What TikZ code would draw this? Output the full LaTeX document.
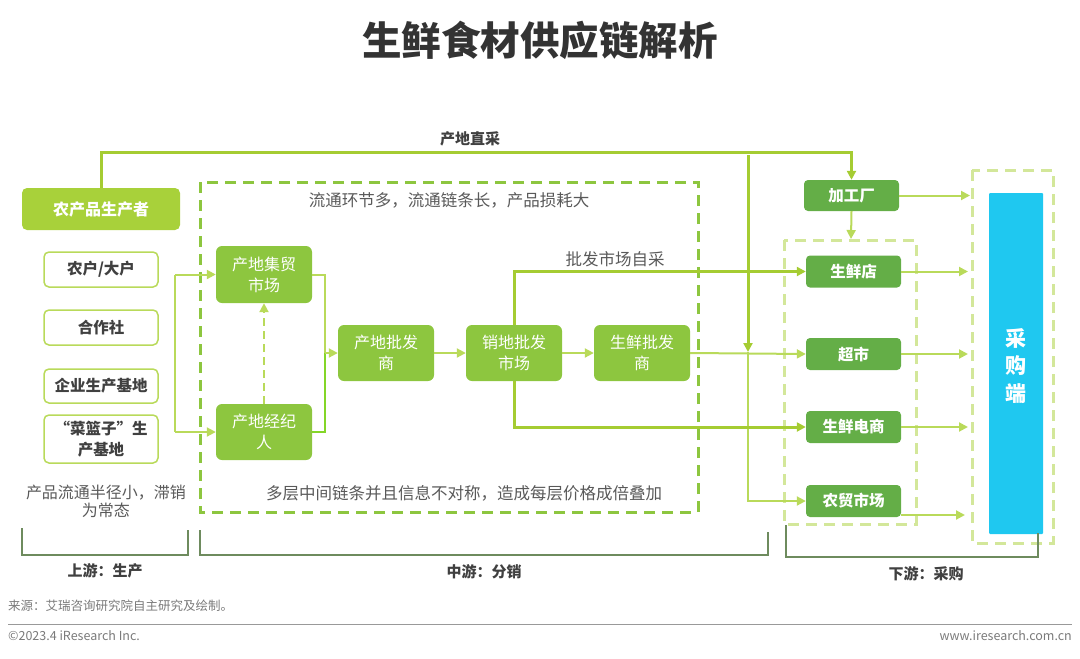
\documentclass[tikz,border=0pt]{standalone}
\usepackage{fontspec}
\setmainfont{Noto Sans CJK SC}
\usetikzlibrary{arrows.meta,calc}
\definecolor{ygreen}{HTML}{A8D13A}
\definecolor{mgreen}{HTML}{8DC63F}
\definecolor{dgreen}{HTML}{64AE47}
\definecolor{lineg}{HTML}{A5CC32}
\definecolor{lightg}{HTML}{B9DA5A}
\definecolor{dashl}{HTML}{D3E79A}
\definecolor{brk}{HTML}{6E8B5E}
\definecolor{txt}{HTML}{404040}
\definecolor{note}{HTML}{595959}
\definecolor{cyanb}{HTML}{1FC8F0}
\begin{document}
\begin{tikzpicture}[x=1pt,y=-1pt,
  every node/.style={inner sep=0pt},
  prodbox/.style={fill=ygreen,rounded corners=5pt,text=white,font=\fontsize{16}{18}\selectfont\bfseries},
  srcbox/.style={draw=lightg,line width=1.5pt,fill=white,rounded corners=5pt,text=txt,align=center,font=\fontsize{15.5}{21}\selectfont\bfseries,minimum width=114pt},
  midbox/.style={fill=mgreen,rounded corners=6pt,text=white,align=center,font=\fontsize{16}{21}\selectfont,minimum width=96pt,minimum height=56pt},
  downbox/.style={fill=dgreen,rounded corners=4pt,text=white,font=\fontsize{15.5}{18}\selectfont\bfseries,minimum width=95pt,minimum height=32pt},
  tip/.style={-{Triangle[length=9pt,width=9pt]}},
  thickln/.style={draw=lineg,line width=3pt},
  thinln/.style={draw=lineg,line width=2pt},
  lightln/.style={draw=lightg,line width=2pt},
  notetext/.style={text=note,font=\fontsize{16.5}{21}\selectfont},
  brkln/.style={draw=brk,line width=1.5pt},
  brklabel/.style={text=txt,font=\fontsize{15}{18}\selectfont\bfseries},
  footer/.style={text=note!80,font=\fontsize{12.5}{14}\selectfont}
]
\useasboundingbox (0,0) rectangle (1080,659);

% title
\node[text=black!80,font=\fontsize{39.5}{42}\selectfont\bfseries] (title) at (540,40) {生鲜食材供应链解析};

% dashed regions
\draw[draw=mgreen,line width=3pt,dash pattern=on 11pt off 7pt] (200,182) rectangle (698,512);
\draw[draw=dashl,line width=3pt,dash pattern=on 11pt off 7pt] (784,240) rectangle (916,524);
\draw[draw=dashl,line width=3pt,dash pattern=on 11pt off 7pt] (972,170) rectangle (1053,543);

% upstream
\node[prodbox,minimum width=158pt,minimum height=42pt] (prod) at (101,209) {农产品生产者};
\node[srcbox,minimum height=35pt] (nh) at (101,269.5) {农户/大户};
\node[srcbox,minimum height=35pt] (hzs) at (101,327.5) {合作社};
\node[srcbox,minimum height=34pt] (qy) at (101,386) {企业生产基地};
\node[srcbox,minimum height=48pt] (cl) at (101,439) {“菜篮子”生\\产基地};
\node[notetext,align=center,font=\fontsize{16}{18}\selectfont] (upnote) at (106,501) {产品流通半径小，滞销\\为常态};

% midstream
\node[notetext] (mnote1) at (449,200) {流通环节多，流通链条长，产品损耗大};
\node[notetext] (mnote2) at (464,493) {多层中间链条并且信息不对称，造成每层价格成倍叠加};
\node[midbox,minimum height=57pt] (jm) at (264,274.5) {产地集贸\\市场};
\node[midbox] (jjr) at (264,432) {产地经纪\\人};
\node[midbox] (cdp) at (386,353) {产地批发\\商};
\node[midbox] (xdp) at (514,353) {销地批发\\市场};
\node[midbox] (sxp) at (642,353) {生鲜批发\\商};
\node[notetext] (pfzc) at (615,259) {批发市场自采};

% downstream
\node[downbox,minimum height=31pt] (jgc) at (851.5,195.5) {加工厂};
\node[downbox] (sxd) at (853.5,271.5) {生鲜店};
\node[downbox] (cs) at (853.5,354) {超市};
\node[downbox] (dsh) at (853.5,427) {生鲜电商};
\node[downbox] (nm) at (853.5,501) {农贸市场};
\node[fill=cyanb,minimum width=54pt,minimum height=341pt,rounded corners=1pt] (cgd) at (1016,363.5) {};
\node[text=white,align=center,font=\fontsize{21}{27.5}\selectfont\bfseries] (cgdt) at (1016,366) {采\\购\\端};

% coordinates
\coordinate (topy) at (0,152);
\coordinate (v1) at (748,155);
\coordinate (v2) at (748,352);
\coordinate (la) at (175,274.5);
\coordinate (lb) at (175,432);
\coordinate (mj) at (325,353);
\coordinate (jmr) at (325,274.5);
\coordinate (jjrr) at (325,432);
\coordinate (dtop) at (851,239);
\coordinate (e1) at (970,195.5);
\coordinate (e2) at (968,271.5);
\coordinate (e3) at (968,354);
\coordinate (e4) at (968,427);
\coordinate (e5) at (965,515);
\coordinate (nmo) at (901,515);

% top route
\node[text=txt,font=\fontsize{15}{18}\selectfont\bfseries] (cdzc) at (470,139) {产地直采};
\draw[thickln,tip] (prod.north) |- (topy -| jgc.north) -- (jgc.north);
\draw[thickln,tip] (v1) -- (v2);
\draw[lightln,tip] (v2) |- (nm.west);

% left feeders
\draw[lightln] (la) -- (lb);
\draw[lightln,tip] (la) -- (jm.west);
\draw[lightln,tip] (lb) -- (jjr.west);
\draw[lightln,dashed,dash pattern=on 8pt off 5pt,tip] (jjr.north) -- (jm.south);

% mid chain
\draw[lightln] (jm.east) -- (jmr) -- (mj);
\draw[draw=lineg!80!green,line width=1.5pt] (jjr.east) -- (jjrr) -- (mj);
\draw[lightln,tip] (mj) -- (cdp.west);
\draw[lightln,tip] (cdp.east) -- (xdp.west);
\draw[lightln,tip] (xdp.east) -- (sxp.west);
\draw[lightln,tip] (sxp.east) -- (cs.west);
\draw[thickln,tip] (xdp.north) |- (sxd.west);
\draw[thickln,tip] (xdp.south) |- (dsh.west);

% to buyers
\draw[lightln,tip] (jgc.south) -- (dtop);
\draw[lightln,tip] (jgc.east) -- (e1);
\draw[lightln,tip] (sxd.east) -- (e2);
\draw[lightln,tip] (cs.east) -- (e3);
\draw[lightln,tip] (dsh.east) -- (e4);
\draw[lightln,tip] (nmo) -- (e5);

% brackets
\draw[brkln] (22,528) -- (22,555) -- (188,555) -- (188,530);
\node[brklabel] (up) at (105,571) {上游：生产};
\draw[brkln] (200,530) -- (200,555) -- (768,555) -- (768,532);
\node[brklabel] (mid) at (484,572) {中游：分销};
\draw[brkln] (786,525) -- (786,557) -- (1038,557) -- (1038,533);
\node[brklabel] (down) at (926,574) {下游：采购};

% footer
\node[footer,anchor=west] (src) at (8,606) {来源：艾瑞咨询研究院自主研究及绘制。};
\draw[draw=black!40,line width=1pt] (8,624) -- (1072,624);
\node[footer,anchor=west] (copy) at (8,636) {©2023.4 iResearch Inc.};
\node[footer,anchor=east] (web) at (1072,636) {www.iresearch.com.cn};
\end{tikzpicture}
\end{document}
